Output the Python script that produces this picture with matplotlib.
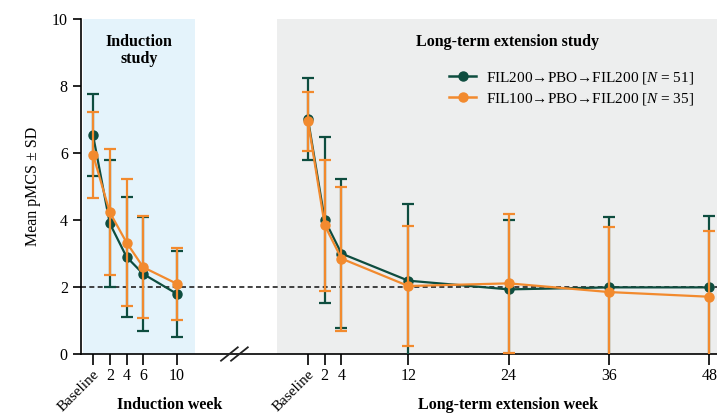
import matplotlib.pyplot as plt
from matplotlib.lines import Line2D
from matplotlib.transforms import blended_transform_factory

plt.rcParams["font.family"] = ["Liberation Serif", "DejaVu Serif"]
plt.rcParams["mathtext.fontset"] = "custom"
plt.rcParams["mathtext.rm"] = "Liberation Serif"
plt.rcParams["mathtext.it"] = "Liberation Serif:italic"

GREEN = "#0e4d3f"
ORANGE = "#f28a2e"

# induction study
ind_weeks = [0, 2, 4, 6, 10]
ind_labels = ["Baseline", "2", "4", "6", "10"]
ind_fil200_mean = [6.53, 3.90, 2.90, 2.39, 1.80]
ind_fil200_sd = [1.22, 1.89, 1.80, 1.70, 1.29]
ind_fil100_mean = [5.95, 4.23, 3.33, 2.59, 2.10]
ind_fil100_sd = [1.28, 1.88, 1.89, 1.52, 1.08]

# long-term extension
lte_weeks = [0, 2, 4, 12, 24, 36, 48]
lte_labels = ["Baseline", "2", "4", "12", "24", "36", "48"]
lte_fil200_mean = [7.01, 4.00, 3.00, 2.19, 1.93, 1.99, 1.99]
lte_fil200_sd = [1.22, 2.48, 2.22, 2.29, 2.07, 2.11, 2.13]
lte_fil100_mean = [6.95, 3.84, 2.85, 2.03, 2.11, 1.85, 1.71]
lte_fil100_sd = [0.88, 1.95, 2.15, 1.80, 2.07, 1.95, 1.97]

LTE_OFFSET = 25.7  # сдвиг второй части по оси x

fig = plt.figure(figsize=(7.17, 4.16), dpi=100)
ax = fig.add_axes([0.113, 0.149, 0.887, 0.805])
ax.set_xlim(-1.44, 74.6)
ax.set_ylim(0, 10)

# фоновые области
ax.axvspan(-1.2, 12.2, color="#e4f3fb", zorder=0, lw=0)
ax.axvspan(22.0, 74.6, color="#edeeee", zorder=0, lw=0)

ax.axhline(2, color="#222222", ls=(0, (3, 2)), lw=1.2, zorder=1)


def draw(x, mean, sd, color, z):
    ax.errorbar(x, mean, yerr=sd, color=color, lw=1.6, capsize=4,
                capthick=1.6, marker="o", ms=6.5, zorder=z)


lte_x = [LTE_OFFSET + w for w in lte_weeks]
draw(ind_weeks, ind_fil200_mean, ind_fil200_sd, GREEN, 3)
draw(ind_weeks, ind_fil100_mean, ind_fil100_sd, ORANGE, 4)
draw(lte_x, lte_fil200_mean, lte_fil200_sd, GREEN, 3)
draw(lte_x, lte_fil100_mean, lte_fil100_sd, ORANGE, 4)

ax.set_xticks(ind_weeks + lte_x)
ax.set_xticklabels(ind_labels + lte_labels, fontsize=11.5)
for t in ax.get_xticklabels():
    if t.get_text() == "Baseline":
        t.set_rotation(45)
        t.set_ha("right")
        t.set_rotation_mode("anchor")
        t.set_fontsize(11)
ax.set_yticks(range(0, 11, 2))
ax.tick_params(axis="y", labelsize=11.5, length=6, width=1.2, direction="out")
ax.tick_params(axis="x", length=8, width=1.2, direction="out", pad=2)

for s in ("top", "right"):
    ax.spines[s].set_visible(False)
ax.spines["left"].set_linewidth(1.2)
ax.spines["bottom"].set_linewidth(1.2)

ax.set_ylabel("Mean pMCS \u00b1 SD", fontsize=11.5, labelpad=8)

# разрыв оси
for dx in (-0.6, 0.6):
    ax.plot([16.9 + dx - 1.0, 16.9 + dx + 1.0], [-0.2, 0.2], color="#222222",
            lw=1.3, clip_on=False, zorder=6)

ax.text(5.5, 9.55, "Induction\nstudy", ha="center", va="top",
        fontsize=11.5, fontweight="bold", linespacing=1.1)
ax.text(LTE_OFFSET + 23.8, 9.55, "Long-term extension study", ha="center",
        va="top", fontsize=11.5, fontweight="bold")

tr = blended_transform_factory(ax.transData, fig.transFigure)
ax.text(9.2, 0.027, "Induction week", transform=tr, ha="center",
        va="center", fontsize=11.5, fontweight="bold")
ax.text(LTE_OFFSET + 23.9, 0.027, "Long-term extension week", transform=tr,
        ha="center", va="center", fontsize=11.5, fontweight="bold")

handles = [
    Line2D([], [], color=GREEN, lw=1.8, marker="o", ms=6.5),
    Line2D([], [], color=ORANGE, lw=1.8, marker="o", ms=6.5),
]
labels = [
    "FIL200\u2192PBO\u2192FIL200 [$\\it{N}$ = 51]",
    "FIL100\u2192PBO\u2192FIL200 [$\\it{N}$ = 35]",
]
ax.legend(handles, labels, loc="upper right", bbox_to_anchor=(0.985, 0.89),
          frameon=False, fontsize=11, handlelength=1.8, handletextpad=0.6,
          labelspacing=0.35)

fig.savefig("out.png", dpi=100)
